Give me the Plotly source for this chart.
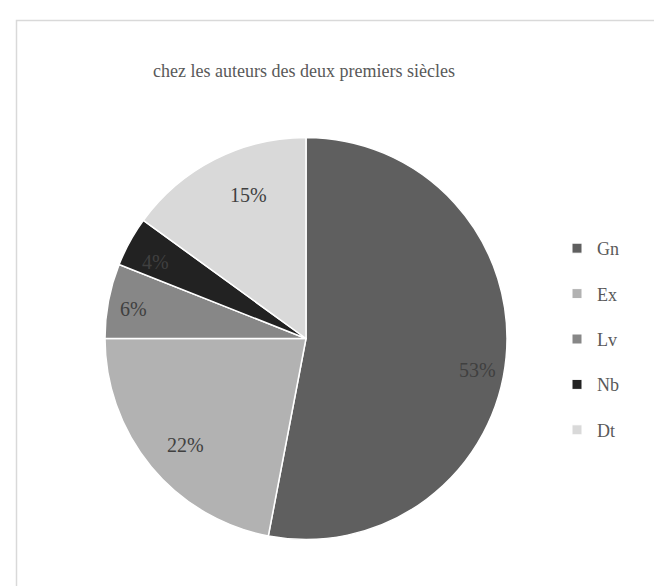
import math
import plotly.graph_objects as go

# ---- data ----
labels = ["Gn", "Ex", "Lv", "Nb", "Dt"]
values = [53, 22, 6, 4, 15]
colors = ["#5f5f5f", "#b2b2b2", "#878787", "#222222", "#d9d9d9"]
title_text = "chez les auteurs des deux premiers siècles"

# label placement style (fraction of radius, angular nudge in degrees)
label_r = [0.87, 0.80, 0.87, 0.84, 0.77]
label_nudge_deg = [5, -2, -1, -2, 5]

W, H = 662, 586
FONT = "Liberation Serif"

# pie geometry (pixels)
cx, cy, R = 298, 330.5, 201
dom_x = [(cx - R) / W, (cx + R) / W]
dom_y = [1 - (cy + R) / H, 1 - (cy - R) / H]

fig = go.Figure()
fig.add_trace(go.Pie(
    labels=labels, values=values, sort=False, direction="clockwise", rotation=0,
    marker=dict(colors=colors, line=dict(color="white", width=1.5)),
    textinfo="none", hoverinfo="label+percent", showlegend=False,
    domain=dict(x=dom_x, y=dom_y),
))

# legend entries (one per category, separate groups for spacing)
for lab, col in zip(labels, colors):
    fig.add_trace(go.Scatter(
        x=[None], y=[None], mode="markers", name=lab, legendgroup=lab,
        marker=dict(symbol="square", size=10, color=col,
                    line=dict(color="white", width=1)),
        showlegend=True,
    ))

# percentage labels positioned from the data
total = sum(values)
annotations = []
cum = 0
for v, rf, nd in zip(values, label_r, label_nudge_deg):
    frac_mid = (cum + v / 2) / total
    cum += v
    mid = frac_mid * 2 * math.pi + math.radians(nd)
    rr = rf * R
    px = cx + rr * math.sin(mid)
    py = cy - rr * math.cos(mid)
    annotations.append(dict(
        x=px / W, y=1 - py / H, xref="paper", yref="paper",
        text=f"{round(v / total * 100)}%", showarrow=False,
        font=dict(family=FONT, size=20, color="#404040"),
        xanchor="center", yanchor="middle",
    ))

fig.update_layout(
    width=W, height=H,
    margin=dict(l=0, r=0, t=0, b=0),
    paper_bgcolor="white", plot_bgcolor="white",
    title=dict(text=title_text, x=296 / W, y=1 - 63 / H, xref="paper", yref="paper",
               xanchor="center", yanchor="middle",
               font=dict(family=FONT, size=18, color="#595959")),
    xaxis=dict(visible=False), yaxis=dict(visible=False),
    legend=dict(x=549 / W, y=1 - 222 / H, xanchor="left", yanchor="top",
                font=dict(family=FONT, size=18, color="#595959"),
                tracegroupgap=19, itemclick=False, bgcolor="rgba(0,0,0,0)"),
    annotations=annotations,
    shapes=[dict(type="rect", xref="paper", yref="paper",
                 x0=8.5 / W, x1=1.05, y0=-0.05, y1=1 - 12.5 / H,
                 line=dict(color="#d9d9d9", width=1.5), fillcolor="rgba(0,0,0,0)")],
)

fig.write_html("out.html")
